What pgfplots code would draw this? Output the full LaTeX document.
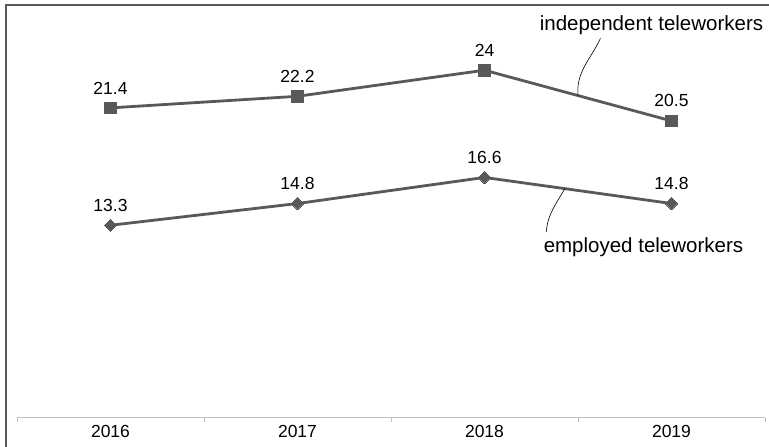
\documentclass[border=0pt]{standalone}
\usepackage{pgfplots}
\pgfplotsset{compat=1.18}
\usepackage{fontspec}
\setmainfont{Liberation Sans}
\definecolor{ln}{HTML}{595959}
\definecolor{ax}{HTML}{BFBFBF}
\begin{document}
\begin{tikzpicture}[x=1pt,y=1pt]
\useasboundingbox (-17,-29) rectangle (752,418);
\draw[ln,line width=1.5pt] (-11,-29) -- (-11,413) -- (752,413);
\begin{axis}[
  at={(0,0)}, anchor=south west,
  scale only axis, width=748pt, height=413pt,
  xmin=-0.5, xmax=3.5, ymin=0, ymax=28.5,
  axis x line*=bottom, axis y line=none,
  axis line style={ax, line width=1pt},
  xtick={0,1,2,3}, xticklabels={2016,2017,2018,2019},
  major tick length=0pt,
  minor xtick={-0.5,0.5,1.5,2.5,3.5},
  minor tick length=4pt, tick align=outside,
  minor tick style={ax, line width=1pt},
  xticklabel style={font=\fontsize{17.5}{19}\selectfont, yshift=-4pt},
  /pgf/number format/assume math mode=true,
  nodes near coords,
  every node near coord/.append style={font=\fontsize{17.5}{19}\selectfont, black, yshift=10.5pt},
  clip=false,
]
\addplot[ln, line width=2.8pt, mark=square*, mark size=5.8pt, mark options={solid,ln, line width=0pt}] coordinates {(0,21.4) (1,22.2) (2,24) (3,20.5)};
\addplot[ln, line width=2.8pt, mark=square*, mark size=4.3pt, mark options={solid,ln, line width=0pt, rotate=45}] coordinates {(0,13.3) (1,14.8) (2,16.6) (3,14.8)};
\draw[black, line width=0.6pt] (axis cs:2.62,26.2) to[out=-115,in=95] (axis cs:2.5,22.25);
\draw[black, line width=0.6pt] (axis cs:2.33,12.83) to[out=85,in=-120] (axis cs:2.43,15.83);
\node[font=\fontsize{20.5}{22}\selectfont] at (axis cs:2.893,27.1) {independent teleworkers};
\node[font=\fontsize{20.5}{22}\selectfont] at (axis cs:2.85,11.8) {employed teleworkers};
\end{axis}
\end{tikzpicture}
\end{document}
